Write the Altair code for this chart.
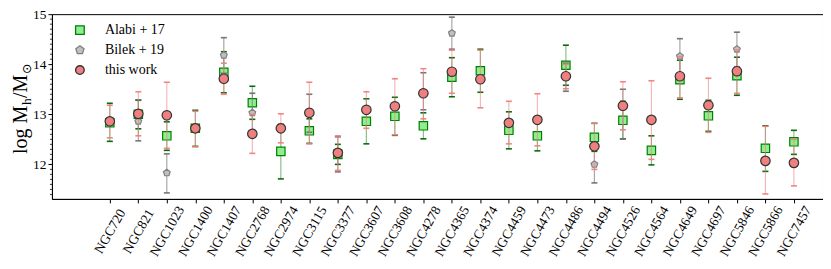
import json
import altair as alt
import pandas as pd

galaxies = ["NGC720", "NGC821", "NGC1023", "NGC1400", "NGC1407", "NGC2768", "NGC2974",
            "NGC3115", "NGC3377", "NGC3607", "NGC3608", "NGC4278", "NGC4365", "NGC4374",
            "NGC4459", "NGC4473", "NGC4486", "NGC4494", "NGC4526", "NGC4564", "NGC4649",
            "NGC4697", "NGC5846", "NGC5866", "NGC7457"]

series_names = ["Alabi + 17", "Bilek + 19", "this work"]

alabi_val = [12.83, 13.00, 12.57, 12.72, 13.84, 13.23, 12.26, 12.67, 12.20, 12.86, 12.96, 12.77, 13.74,
             13.87, 12.68, 12.57, 13.98, 12.54, 12.88, 12.28, 13.69, 12.97, 13.77, 12.32, 12.45]
alabi_lo = [12.46, 12.71, 12.28, 12.36, 13.43, 12.90, 11.71, 12.42, 12.00, 12.41, 12.58, 12.51, 13.35,
            13.44, 12.31, 12.27, 13.58, 12.26, 12.51, 11.99, 13.30, 12.66, 13.38, 11.86, 12.20]
alabi_hi = [13.22, 13.28, 12.85, 13.08, 14.25, 13.56, 12.80, 12.91, 12.40, 13.31, 13.34, 13.03, 14.13,
            14.30, 13.05, 12.86, 14.38, 12.82, 13.26, 12.57, 14.08, 13.28, 14.14, 12.77, 12.68]

bilek_val = [None, 12.86, 11.83, None, 14.18, 13.03, None, 13.02, 12.20, None, None, 13.43, 14.62,
             None, None, None, 13.74, 12.00, 13.15, None, 14.16, None, 14.30, None, None]
bilek_lo = [None, 12.47, 11.43, None, 13.82, 12.64, None, 12.64, 11.85, None, None, 13.09, 14.30,
            None, None, None, 13.46, 11.63, 12.51, None, 13.80, None, 13.95, None, None]
bilek_hi = [None, 13.29, 12.21, None, 14.53, 13.42, None, 13.40, 12.55, None, None, 13.83, 14.94,
            None, None, None, 14.02, 12.36, 13.50, None, 14.51, None, 14.64, None, None]

this_val = [12.86, 13.01, 12.98, 12.72, 13.71, 12.61, 12.72, 13.03, 12.23, 13.09, 13.16, 13.42, 13.85,
            13.70, 12.83, 12.89, 13.76, 12.36, 13.17, 12.89, 13.76, 13.18, 13.86, 12.07, 12.03]
this_lo = [12.53, 12.57, 12.32, 12.35, 13.40, 12.22, 12.43, 12.41, 11.88, 12.72, 12.59, 12.91, 13.42,
           13.13, 12.41, 12.37, 13.51, 11.90, 12.69, 12.10, 13.33, 12.64, 13.42, 11.41, 11.57]
this_hi = [13.18, 13.45, 13.64, 13.06, 14.02, 13.00, 13.01, 13.64, 12.57, 13.45, 13.71, 13.91, 14.28,
           14.28, 13.26, 13.41, 14.00, 12.82, 13.65, 13.67, 14.15, 13.72, 14.28, 12.76, 12.50]

y_major = [12, 13, 14, 15]
y_minor = [round(11.4 + 0.1 * k, 1) for k in range(36)]
y_minor = [m for m in y_minor if abs(m - round(m)) > 1e-6]

# y-axis title pieces: main text and subscripts
title_main1 = "log M"
title_sub1 = "h"
title_main2 = "/M"
title_sub2 = "⊙"

fills = ["#90EE90", "#C0C0C0", "#F08080"]
strokes = ["#008000", "#808080", "#333333"]
err_line = ["#2e8b2e", "#808080", "#F08080"]
err_cap = ["#006400", "#707070", "#F08080"]
err_op = [0.6, 0.75, 0.6]
pentagon = "M0,-1L0.951,-0.309L0.588,0.809L-0.588,0.809L-0.951,-0.309Z"
shapes = ["square", pentagon, "circle"]
sizes = [70, 50, 90]

rows = []
for s, vals, los, his in [(series_names[0], alabi_val, alabi_lo, alabi_hi),
                          (series_names[1], bilek_val, bilek_lo, bilek_hi),
                          (series_names[2], this_val, this_lo, this_hi)]:
    for i, (g, v, lo, hi) in enumerate(zip(galaxies, vals, los, his)):
        if v is None:
            continue
        rows.append(dict(idx=i, galaxy=g, series=s, val=v, lo=lo, hi=hi))
df = pd.DataFrame(rows)
minor_df = pd.DataFrame({"m": y_minor})

SERIF = "Liberation Serif"

xscale = alt.Scale(domain=[-2.03, 25.02], nice=False, zero=False)
yscale = alt.Scale(domain=[11.31, 15.0], nice=False, zero=False)
label_expr = "%s[datum.value]" % json.dumps(galaxies)
xaxis = alt.Axis(values=list(range(len(galaxies))), labelExpr=label_expr, labelAngle=-60,
                 labelAlign="center", labelBaseline="middle", labelPadding=28, tickSize=4,
                 labelFont=SERIF, labelFontSize=13.5, labelColor="black", title=None,
                 grid=False, domainColor="black", tickColor="black", labelOverlap=False,
                 labelFlush=False, labelBound=False)
yaxis = alt.Axis(values=y_major, format="d", tickSize=4, labelPadding=2, labelFont=SERIF,
                 labelFontSize=13.5, labelColor="black", grid=False, domainColor="black",
                 tickColor="black", title=None)

X = alt.X("idx:Q", scale=xscale, axis=xaxis)

layers = []
layers.append(
    alt.Chart(minor_df).mark_rule(color="black", strokeWidth=0.8).encode(
        y=alt.Y("m:Q", scale=yscale, axis=yaxis),
        x=alt.value(-2), x2=alt.value(0))
)
for k, s in enumerate(series_names):
    base = alt.Chart(df).transform_filter(alt.datum.series == s)
    layers.append(base.mark_rule(color=err_line[k], opacity=err_op[k], strokeWidth=1.1).encode(
        x=X, y=alt.Y("lo:Q", scale=yscale, axis=yaxis), y2="hi:Q"))
    layers.append(base.transform_fold(["lo", "hi"], as_=["end", "cap"]).mark_point(
        shape="M-1,0L1,0", size=36, filled=False, color=err_cap[k], strokeWidth=1.6,
        opacity=0.95).encode(x=X, y=alt.Y("cap:Q", scale=yscale, axis=yaxis)))
    layers.append(base.mark_point(filled=True, opacity=1, strokeWidth=1.2, size=sizes[k]).encode(
        x=X, y=alt.Y("val:Q", scale=yscale, axis=yaxis),
        fill=alt.Fill("series:N", scale=alt.Scale(domain=series_names, range=fills),
                      legend=alt.Legend(title=None)),
        stroke=alt.Stroke("series:N", scale=alt.Scale(domain=series_names, range=strokes),
                          legend=alt.Legend(title=None)),
        shape=alt.Shape("series:N", scale=alt.Scale(domain=series_names, range=shapes),
                        legend=alt.Legend(title=None))))

# rotated y-axis title built from pieces (main text + subscripts)
def title_piece(text, size, font, xpix, ypix):
    return alt.Chart(pd.DataFrame({"t": [text]})).mark_text(
        angle=270, align="left", baseline="alphabetic", font=font, fontSize=size,
        color="black").encode(text="t:N", x=alt.value(xpix), y=alt.value(ypix))

layers.append(title_piece(title_main1, 20, SERIF, -25, 140))
layers.append(title_piece(title_sub1, 13.5, SERIF, -21, 91))
layers.append(title_piece(title_main2, 20, SERIF, -25, 84))
layers.append(title_piece(title_sub2, 12.5, "DejaVu Sans", -21, 60))

chart = alt.layer(*layers).properties(
    width=772, height=185,
    autosize=alt.AutoSizeParams(type="none"),
    padding={"left": 44, "top": 6, "right": 0, "bottom": 62},
).configure_view(stroke="black", strokeWidth=1).configure_legend(
    orient="none", legendX=21, legendY=9, labelFont=SERIF, labelFontSize=14,
    labelColor="black", symbolSize=75, symbolStrokeWidth=1.3, rowPadding=6,
    labelOffset=18, padding=0, symbolOffset=0
).configure_axis(domainWidth=1, tickWidth=1)

chart.save("out.html", embed_options={"renderer": "svg", "actions": False})
